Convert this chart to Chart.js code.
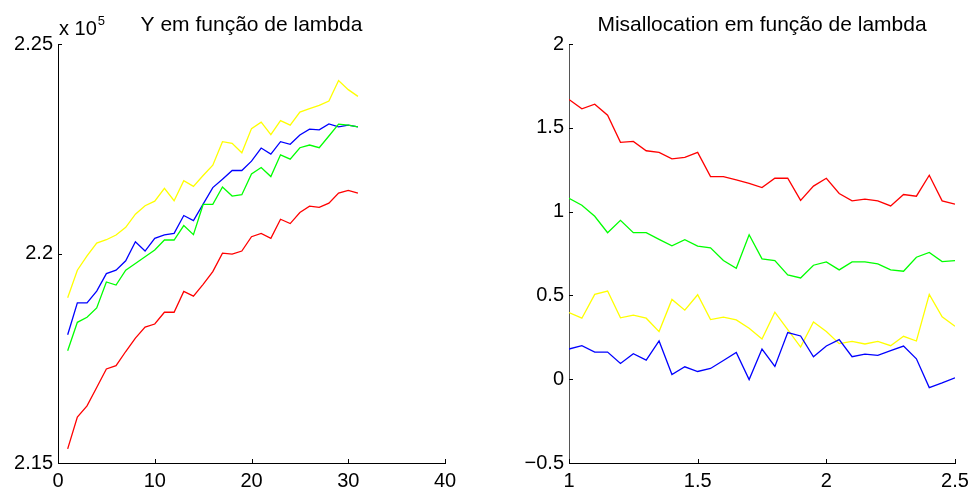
<!DOCTYPE html>
<html>
<head>
<meta charset="utf-8">
<title>Y e Misallocation em função de lambda</title>
<script src="https://cdn.jsdelivr.net/npm/chart.js@4"></script>
<style>
  html, body { margin: 0; padding: 0; background: #fff; }
  #wrap { position: relative; width: 976px; height: 493px; }
  #wrap canvas { position: absolute; top: 0; }
</style>
</head>
<body>
<div id="wrap">
  <canvas id="yChart" width="488" height="493" style="left:0"></canvas>
  <canvas id="misChart" width="488" height="493" style="left:488px"></canvas>
</div>
<script>
// left panel: Y versus simulation index
const runIdx = [1, 2, 3, 4, 5, 6, 7, 8, 9, 10, 11, 12, 13, 14, 15, 16, 17, 18, 19, 20, 21, 22, 23, 24, 25, 26, 27, 28, 29, 30, 31];
const yRed = [215336, 216098, 216363, 216803, 217245, 217324, 217661, 217981, 218245, 218317, 218598, 218598, 219096, 218983, 219264, 219567,
  220010, 219986, 220058, 220401, 220481, 220361, 220817, 220714, 220978, 221130, 221099, 221202, 221442, 221507, 221442];
const yGreen = [217678, 218358, 218478, 218702, 219320, 219248, 219601, 219760, 219921, 220082, 220322, 220322, 220666, 220450, 221171, 221171,
  221587, 221370, 221404, 221899, 222053, 221837, 222356, 222253, 222524, 222589, 222524, 222805, 223087, 223063, 223022];
const yBlue = [218062, 218822, 218822, 219103, 219519, 219601, 219825, 220281, 220058, 220361, 220442, 220481, 220906, 220786, 221178, 221572,
  221772, 221981, 221981, 222204, 222517, 222373, 222668, 222606, 222830, 222967, 222950, 223094, 223022, 223063, 223022];
const yYellow = [218942, 219601, 219945, 220250, 220329, 220442, 220625, 220938, 221139, 221250, 221555, 221260, 221740, 221603, 221861, 222108,
  222668, 222630, 222404, 222981, 223135, 222837, 223173, 223063, 223375, 223455, 223534, 223640, 224128, 223911, 223750];

// right panel: misallocation versus lambda
const lambdas = [1, 1.05, 1.1, 1.15, 1.2, 1.25, 1.3, 1.35, 1.4, 1.45, 1.5, 1.55, 1.6, 1.65, 1.7, 1.75, 1.8, 1.85, 1.9, 1.95,
  2, 2.05, 2.1, 2.15, 2.2, 2.25, 2.3, 2.35, 2.4, 2.45, 2.5];
const misRed = [1.669, 1.613, 1.641, 1.575, 1.413, 1.419, 1.363, 1.353, 1.315, 1.323, 1.353, 1.209, 1.209, 1.189, 1.168, 1.143,
  1.199, 1.199, 1.067, 1.152, 1.199, 1.108, 1.064, 1.074, 1.064, 1.034, 1.102, 1.092, 1.217, 1.064, 1.044];
const misGreen = [1.079, 1.038, 0.972, 0.874, 0.948, 0.874, 0.874, 0.834, 0.796, 0.832, 0.794, 0.784, 0.708, 0.662, 0.862, 0.718,
  0.708, 0.622, 0.604, 0.680, 0.700, 0.652, 0.700, 0.700, 0.688, 0.652, 0.644, 0.728, 0.756, 0.702, 0.708];
const misBlue = [0.180, 0.200, 0.162, 0.162, 0.094, 0.152, 0.114, 0.228, 0.028, 0.074, 0.046, 0.064, 0.112, 0.160, -0.002, 0.180,
  0.076, 0.278, 0.258, 0.134, 0.198, 0.236, 0.134, 0.150, 0.142, 0.170, 0.198, 0.122, -0.050, -0.022, 0.008];
const misYellow = [0.398, 0.364, 0.506, 0.526, 0.366, 0.382, 0.364, 0.284, 0.476, 0.412, 0.504, 0.356, 0.370, 0.354, 0.304, 0.240,
  0.400, 0.296, 0.192, 0.342, 0.284, 0.212, 0.226, 0.210, 0.226, 0.200, 0.256, 0.228, 0.506, 0.372, 0.316];

const yXTicks = [0, 10, 20, 30, 40];
const yYTicks = [215000, 220000, 225000];
const misXTicks = [1, 1.5, 2, 2.5];
const misYTicks = [-0.5, 0, 0.5, 1, 1.5, 2];

const FONT = '"Liberation Sans", Arial, Helvetica, sans-serif';
Chart.defaults.font.family = FONT;
Chart.defaults.font.size = 20;
Chart.defaults.color = '#000';

function pairs(xs, ys) {
  return ys.map((y, i) => ({ x: xs[i], y: y }));
}

function series(xs, ys, color) {
  return {
    data: pairs(xs, ys),
    borderColor: color,
    borderWidth: 1.3,
    pointRadius: 0,
    tension: 0,
    fill: false
  };
}

function fixedTicks(list) {
  return scale => { scale.ticks = list.map(v => ({ value: v })); };
}

const minus = v => String(v).replace('-', '\u2212');

// small tick marks pointing into the plot, on the left and bottom axes only
const innerTicks = {
  id: 'innerTicks',
  afterDraw(chart) {
    const { ctx, chartArea: a, scales } = chart;
    ctx.save();
    ctx.strokeStyle = '#000';
    ctx.lineWidth = 1;
    ctx.beginPath();
    scales.x.ticks.forEach(t => {
      const px = Math.round(scales.x.getPixelForValue(t.value)) + 0.5;
      ctx.moveTo(px, a.bottom);
      ctx.lineTo(px, a.bottom - 4);
    });
    scales.y.ticks.forEach(t => {
      const py = Math.round(scales.y.getPixelForValue(t.value)) + 0.5;
      ctx.moveTo(a.left, py);
      ctx.lineTo(a.left + 4, py);
    });
    ctx.stroke();
    ctx.restore();
  }
};

// panel title centred over the plot area, plus an optional axis multiplier
const panelTitle = {
  id: 'panelTitle',
  afterDraw(chart, args, opts) {
    const { ctx, chartArea: a } = chart;
    ctx.save();
    ctx.fillStyle = '#000';
    ctx.textBaseline = 'alphabetic';
    ctx.font = '21px ' + FONT;
    ctx.textAlign = 'center';
    ctx.fillText(opts.text, (a.left + a.right) / 2, 31);
    if (opts.multiplier) {
      ctx.font = '20px ' + FONT;
      ctx.textAlign = 'left';
      ctx.fillText('x 10', a.left + 1, 35);
      const w = ctx.measureText('x 10').width;
      ctx.font = '13px ' + FONT;
      ctx.fillText(opts.multiplier, a.left + 1 + w + 1, 25);
    }
    ctx.restore();
  }
};

function axes(xMin, xMax, xTicks, yMin, yMax, yTicks, yWidth, yFmt, yBorder) {
  return {
    x: {
      type: 'linear',
      min: xMin, max: xMax,
      afterBuildTicks: fixedTicks(xTicks),
      afterFit: s => { s.height = 30; },
      grid: { display: false, drawTicks: false },
      border: { display: true, color: '#000', width: 1 },
      ticks: { padding: 6, maxRotation: 0, autoSkip: false, callback: v => minus(v) }
    },
    y: {
      type: 'linear',
      min: yMin, max: yMax,
      afterBuildTicks: fixedTicks(yTicks),
      afterFit: s => { s.width = yWidth; },
      grid: { display: false, drawTicks: false },
      border: { display: true, color: yBorder, width: 1 },
      ticks: { padding: 5, autoSkip: false, callback: yFmt }
    }
  };
}

const common = {
  responsive: false,
  animation: false,
  events: [],
  plugins: { legend: { display: false }, tooltip: { enabled: false } }
};

new Chart(document.getElementById('yChart'), {
  type: 'line',
  data: {
    datasets: [
      series(runIdx, yRed, '#ff0000'),
      series(runIdx, yGreen, '#00ff00'),
      series(runIdx, yBlue, '#0000ff'),
      series(runIdx, yYellow, '#ffff00')
    ]
  },
  options: {
    ...common,
    layout: { padding: { top: 44, right: 43, bottom: 0, left: 0 } },
    scales: axes(0, 40, yXTicks, 215000, 225000, yYTicks, 58, v => String(v / 1e5), '#000'),
    plugins: { ...common.plugins, panelTitle: { text: 'Y em função de lambda', multiplier: '5' } }
  },
  plugins: [innerTicks, panelTitle]
});

new Chart(document.getElementById('misChart'), {
  type: 'line',
  data: {
    datasets: [
      series(lambdas, misRed, '#ff0000'),
      series(lambdas, misGreen, '#00ff00'),
      series(lambdas, misBlue, '#0000ff'),
      series(lambdas, misYellow, '#ffff00')
    ]
  },
  options: {
    ...common,
    layout: { padding: { top: 44, right: 21, bottom: 0, left: 0 } },
    scales: axes(1, 2.5, misXTicks, -0.5, 2, misYTicks, 81, v => minus(v), '#555'),
    plugins: { ...common.plugins, panelTitle: { text: 'Misallocation em função de lambda' } }
  },
  plugins: [innerTicks, panelTitle]
});
</script>
</body>
</html>
